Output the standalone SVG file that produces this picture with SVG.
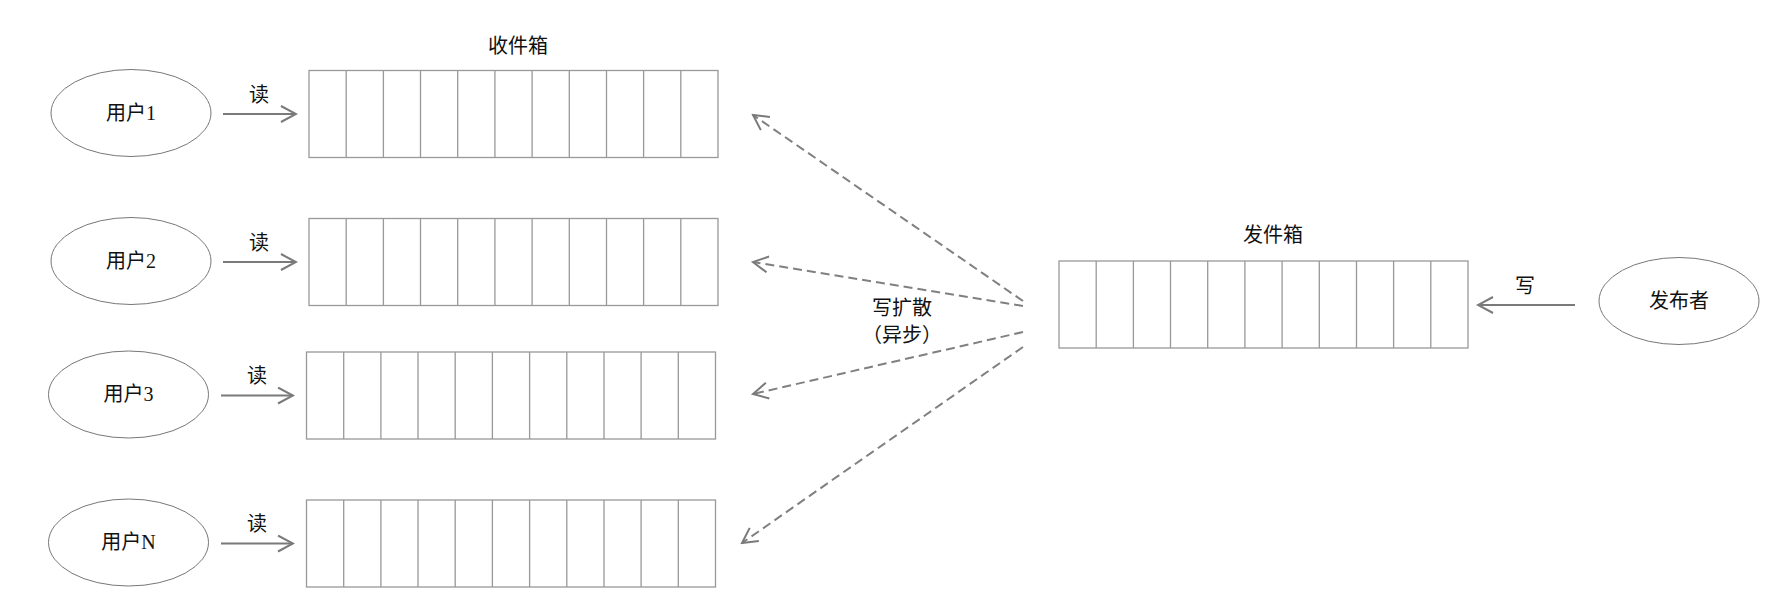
<svg xmlns="http://www.w3.org/2000/svg" width="1786" height="614" viewBox="0 0 1786 614">
<style>
text{font-family:"Liberation Serif","Noto Sans CJK SC",serif;font-size:20px;fill:#111;text-anchor:middle}
.ell{fill:#fff;stroke:#777;stroke-width:1}
.box{fill:#fff;stroke:#999;stroke-width:1.3}
.cell{stroke:#999;stroke-width:1.3}
.arr{stroke:#7a7a7a;stroke-width:2;fill:none;marker-end:url(#head)}
.dash{stroke:#808080;stroke-width:2;fill:none;stroke-dasharray:9 5;marker-end:url(#head)}
</style>
<defs>
<marker id="head" viewBox="0 0 18 18" refX="16" refY="9" markerWidth="18" markerHeight="18" markerUnits="userSpaceOnUse" orient="auto">
<path d="M1,1 L16,9 L1,17" fill="none" stroke="#7a7a7a" stroke-width="2" stroke-dasharray="none"/>
</marker>
<g id="cells">
<rect class="box" x="0" y="0" width="409" height="87"/>
<path class="cell" d="M37.2,0V87M74.4,0V87M111.5,0V87M148.7,0V87M185.9,0V87M223.1,0V87M260.3,0V87M297.5,0V87M334.6,0V87M371.8,0V87"/>
</g>
</defs>
<rect width="1786" height="614" fill="#fff"/>

<g id="inbox-title"><text x="518" y="53">收件箱</text></g>
<g id="outbox-title"><text x="1273" y="242">发件箱</text></g>

<g id="user1"><ellipse class="ell" cx="131" cy="113" rx="80" ry="43.5"/><text x="131" y="120">用户1</text></g>
<g id="user2"><ellipse class="ell" cx="131" cy="261" rx="80" ry="43.5"/><text x="131" y="268">用户2</text></g>
<g id="user3"><ellipse class="ell" cx="128.5" cy="394.5" rx="80" ry="43.5"/><text x="128.5" y="401">用户3</text></g>
<g id="userN"><ellipse class="ell" cx="128.5" cy="542.5" rx="80" ry="43.5"/><text x="128.5" y="549">用户N</text></g>

<g id="inbox1"><use href="#cells" x="309" y="70.5"/></g>
<g id="inbox2"><use href="#cells" x="309" y="218.5"/></g>
<g id="inbox3"><use href="#cells" x="306.5" y="352"/></g>
<g id="inboxN"><use href="#cells" x="306.5" y="500"/></g>

<g id="outbox"><use href="#cells" x="1059" y="261"/></g>

<g id="publisher"><ellipse class="ell" cx="1679" cy="301" rx="80" ry="43.5"/><text x="1679" y="308">发布者</text></g>

<g id="fanout-label"><text x="902" y="315">写扩散</text><text x="902" y="342">（异步）</text></g>

<g id="connectors">
<line class="arr" x1="223" y1="114" x2="296" y2="114"/>
<line class="arr" x1="223" y1="262" x2="296" y2="262"/>
<line class="arr" x1="221" y1="395.5" x2="293" y2="395.5"/>
<line class="arr" x1="221" y1="543.5" x2="293" y2="543.5"/>
<line class="arr" x1="1575" y1="305" x2="1478" y2="305"/>
<line class="dash" x1="1023" y1="301" x2="753" y2="115"/>
<line class="dash" x1="1023" y1="306" x2="753" y2="262"/>
<line class="dash" x1="1023" y1="332" x2="753" y2="394"/>
<line class="dash" x1="1023" y1="347" x2="742" y2="543"/>
<text x="259" y="102">读</text>
<text x="259" y="250">读</text>
<text x="257" y="383">读</text>
<text x="257" y="531">读</text>
<text x="1525" y="293">写</text>
</g>
</svg>
